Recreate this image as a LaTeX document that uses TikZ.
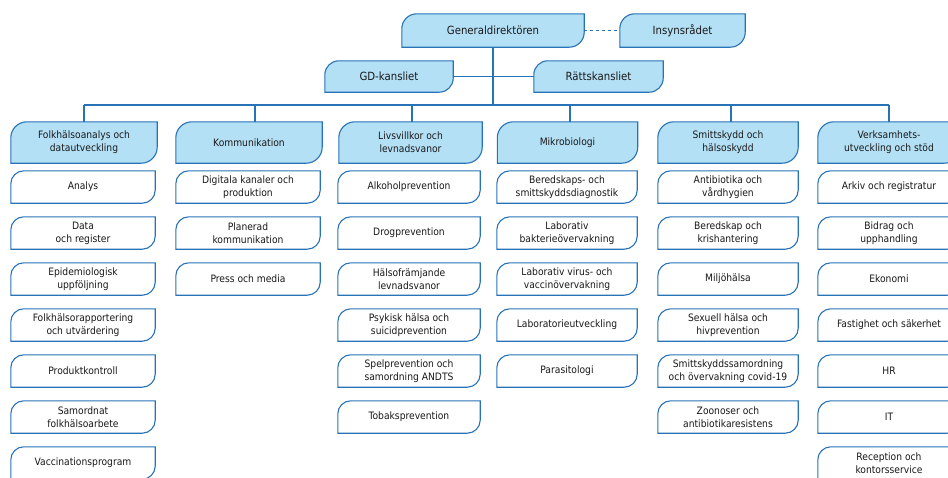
\documentclass[tikz,border=0pt]{standalone}
\usepackage{fontspec}
\setmainfont{DejaVu Sans Condensed}
\usetikzlibrary{backgrounds}
\definecolor{bline}{RGB}{40,114,184}
\definecolor{bfill}{RGB}{180,224,245}
\tikzset{
  box/.style={minimum width=#1, inner sep=0pt, align=center, text=black!90},
  topbox/.style={box=#1, minimum height=33pt, font=\fontsize{11.3}{13}\selectfont},
  midbox/.style={box=#1, minimum height=31pt, font=\fontsize{11.3}{13}\selectfont},
  hdr/.style={box=#1, minimum height=41pt, font=\fontsize{10.2}{13}\selectfont},
  sub/.style={box=#1, minimum height=32pt, font=\fontsize{10.2}{12.8}\selectfont},
  filled/.style={draw=bline, fill=bfill, line width=1.1pt},
  plain/.style={draw=bline, fill=white, line width=1.1pt},
  conn/.style={draw=bline, line width=1.2pt},
}
\newcommand\oshape[3]{\begin{scope}[on background layer]\path[#3] (#1.south west) -- ([yshift=-#2]#1.north west) arc[start angle=180,end angle=90,radius=#2] -- (#1.north east) -- ([yshift=#2]#1.south east) arc[start angle=0,end angle=-90,radius=#2] -- cycle;\end{scope}}
\newcommand\column[4]{% prefix, x, width, list
  \foreach \t [count=\i] in {#4} {
    \node[sub=#3] (#1\i) at (#2, {-187-46*(\i-1)}) {\t};
    \oshape{#1\i}{13pt}{plain}
  }}
\begin{document}
\begin{tikzpicture}[x=1pt,y=1pt]
\useasboundingbox (0,0) rectangle (948,-477);
% top
\node[topbox=182pt] (gd) at (493,-30.5) {Generaldirektören};
\oshape{gd}{15pt}{filled}
\node[topbox=125pt] (ins) at (682.5,-30.5) {Insynsrådet};
\oshape{ins}{15pt}{filled}
\node[midbox=128pt] (gdk) at (389,-76.5) {GD-kansliet};
\oshape{gdk}{14pt}{filled}
\node[midbox=129pt] (rk) at (598.5,-76.5) {Rättskansliet};
\oshape{rk}{14pt}{filled}
\draw[conn, dashed, line width=1pt] (gd.east) -- (ins.west);
\draw[conn] (gdk.east) -- (rk.west);
\coordinate (bl) at (84,-105);
\coordinate (br) at (889,-105);
\draw[conn] (gd.south) -- (gd.south |- bl);
\draw[conn] (bl) -- (br);
% headers
\node[hdr=146pt] (h1) at (84,-142.5) {Folkhälsoanalys och\\datautveckling};
\node[hdr=146pt] (h2) at (249,-142.5) {Kommunikation};
\node[hdr=143pt] (h3) at (410.5,-142.5) {Livsvillkor och\\levnadsvanor};
\node[hdr=140pt] (h4) at (567.5,-142.5) {Mikrobiologi};
\node[hdr=140pt] (h5) at (728,-142.5) {Smittskydd och\\hälsoskydd};
\node[hdr=142pt] (h6) at (889,-142.5) {Verksamhets-\\utveckling och stöd};
\foreach \h in {h1,h2,h3,h4,h5,h6} {\oshape{\h}{16pt}{filled}}
\draw[conn] (h1.north) -- (h1.north |- bl);
\draw[conn] ([xshift=6pt]h2.north) -- ([xshift=6pt]h2.north |- bl);
\draw[conn] ([xshift=1.5pt]h3.north) -- ([xshift=1.5pt]h3.north |- bl);
\draw[conn] ([xshift=2.5pt]h4.north) -- ([xshift=2.5pt]h4.north |- bl);
\draw[conn] ([xshift=3pt]h5.north) -- ([xshift=3pt]h5.north |- bl);
\draw[conn] (h6.north) -- (h6.north |- br);
% sub units
\column{a}{83}{144pt}{Analys,{Data\\och register},{Epidemiologisk\\uppföljning},{Folkhälsorapportering\\och utvärdering},Produktkontroll,{Samordnat\\folkhälsoarbete},Vaccinationsprogram}
\column{b}{248}{144pt}{{Digitala kanaler och\\produktion},{Planerad\\kommunikation},Press och media}
\column{c}{409}{142pt}{Alkoholprevention,Drogprevention,{Hälsofrämjande\\levnadsvanor},{Psykisk hälsa och\\suicidprevention},{Spelprevention och\\samordning ANDTS},Tobaksprevention}
\column{d}{567}{140pt}{{Beredskaps- och\\smittskyddsdiagnostik},{Laborativ\\bakterieövervakning},{Laborativ virus- och\\vaccinövervakning},Laboratorieutveckling,Parasitologi}
\column{e}{728}{140pt}{{Antibiotika och\\vårdhygien},{Beredskap och\\krishantering},Miljöhälsa,{Sexuell hälsa och\\hivprevention},{Smittskyddssamordning\\och övervakning covid-19},{Zoonoser och\\antibiotikaresistens}}
\column{f}{889}{142pt}{Arkiv och registratur,{Bidrag och\\upphandling},Ekonomi,Fastighet och säkerhet,HR,IT,{Reception och\\kontorsservice}}
\end{tikzpicture}
\end{document}
